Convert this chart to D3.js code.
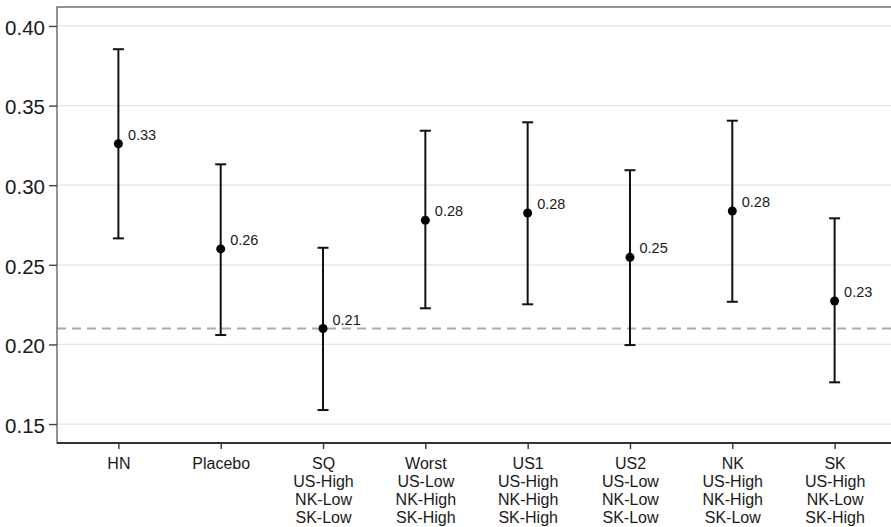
<!DOCTYPE html>
<html>
<head>
<meta charset="utf-8">
<script src="https://cdn.jsdelivr.net/npm/d3@7"></script>
<style>
  body { margin: 0; background: #fff; }
  svg { display: block; font-family: "Liberation Sans", Arial, sans-serif; }
</style>
</head>
<body>
<div id="chart"></div>
<script>
// categories and their multi-line axis labels
var categories = ['HN', 'Placebo', 'SQ', 'Worst', 'US1', 'US2', 'NK', 'SK'];
var categoryLabels = [
	['HN'],
	['Placebo'],
	['SQ', 'US-High', 'NK-Low', 'SK-Low'],
	['Worst', 'US-Low', 'NK-High', 'SK-High'],
	['US1', 'US-High', 'NK-High', 'SK-High'],
	['US2', 'US-Low', 'NK-Low', 'SK-Low'],
	['NK', 'US-High', 'NK-High', 'SK-Low'],
	['SK', 'US-High', 'NK-Low', 'SK-High']
];
// point estimates and interval bounds
var estimates = [0.326, 0.260, 0.210, 0.278, 0.2825, 0.2547, 0.2838, 0.2273];
var lowerBounds = [0.2666, 0.2059, 0.1588, 0.2227, 0.2252, 0.1996, 0.2268, 0.1762];
var upperBounds = [0.3854, 0.3131, 0.2607, 0.3342, 0.3395, 0.3094, 0.3405, 0.2792];
var yTicks = [0.15, 0.20, 0.25, 0.30, 0.35, 0.40];
var referenceLine = 0.21;

var data = categories.map(function (c, i) {
	return { key: c, est: estimates[i], lo: lowerBounds[i], hi: upperBounds[i] };
});

var W = 891, H = 527;
var margin = { left: 57, top: 7 };
var panelRight = 896, panelBottom = 443; // panel runs past the right edge

var svg = d3.select('#chart')
	.append('svg')
	.attr('width', W)
	.attr('height', H);

// X Scale
var xScale = d3.scalePoint()
	.domain(categories)
	.range([margin.left, panelRight])
	.padding(0.6);

// Y Scale
var yScale = d3.scaleLinear()
	.domain([0.1381, 0.4119])
	.range([panelBottom, margin.top]);

// panel background
svg.append('rect')
	.attr('x', margin.left)
	.attr('y', margin.top)
	.attr('width', panelRight - margin.left)
	.attr('height', panelBottom - margin.top)
	.attr('fill', '#fff');

// grid lines
svg.append('g')
	.selectAll('line')
	.data(yTicks)
	.enter()
	.append('line')
	.attr('x1', margin.left)
	.attr('x2', panelRight)
	.attr('y1', function (d) { return yScale(d); })
	.attr('y2', function (d) { return yScale(d); })
	.attr('stroke', '#e3e3e3')
	.attr('stroke-width', 1.3);

// dashed reference line
svg.append('line')
	.attr('x1', margin.left)
	.attr('x2', panelRight)
	.attr('y1', yScale(referenceLine))
	.attr('y2', yScale(referenceLine))
	.attr('stroke', '#acacac')
	.attr('stroke-width', 1.8)
	.attr('stroke-dasharray', '9,6');

// panel border (top and left visible)
svg.append('rect')
	.attr('x', margin.left)
	.attr('y', margin.top)
	.attr('width', panelRight - margin.left)
	.attr('height', panelBottom - margin.top)
	.attr('fill', 'none')
	.attr('stroke', '#666')
	.attr('stroke-width', 1.4);

// Y Axis
var yAxis = svg.append('g')
	.attr('transform', 'translate(' + margin.left + ',0)')
	.call(d3.axisLeft(yScale).tickValues(yTicks).tickSize(8).tickPadding(4).tickFormat(d3.format('.2f')));
yAxis.select('.domain').remove();
yAxis.selectAll('line').attr('stroke', '#444').attr('stroke-width', 1.4);
yAxis.selectAll('text')
	.attr('fill', '#1a1a1a')
	.style('font-size', '20.5px')
	.attr('dy', '0.4em');

// X Axis
var xAxis = svg.append('g')
	.attr('transform', 'translate(0,' + panelBottom + ')')
	.call(d3.axisBottom(xScale).tickSize(6).tickFormat(''));
xAxis.select('.domain')
	.attr('d', 'M' + margin.left + ',0H' + panelRight)
	.attr('stroke', '#333')
	.attr('stroke-width', 1.8);
xAxis.selectAll('.tick line').attr('stroke', '#333').attr('stroke-width', 1.4);

xAxis.selectAll('.tick')
	.each(function (d, i) {
		var t = d3.select(this).append('text')
			.attr('fill', '#1a1a1a')
			.attr('text-anchor', 'middle')
			.style('font-size', '16px');
		categoryLabels[i].forEach(function (line, j) {
			t.append('tspan')
				.attr('x', 0)
				.attr('y', 25.5 + j * 18)
				.text(line);
		});
	});

// error bars
var bars = svg.append('g')
	.selectAll('g')
	.data(data)
	.enter()
	.append('g');

bars.append('line')
	.attr('x1', function (d) { return xScale(d.key); })
	.attr('x2', function (d) { return xScale(d.key); })
	.attr('y1', function (d) { return yScale(d.lo); })
	.attr('y2', function (d) { return yScale(d.hi); })
	.attr('stroke', '#111')
	.attr('stroke-width', 2);

['lo', 'hi'].forEach(function (k) {
	bars.append('line')
		.attr('x1', function (d) { return xScale(d.key) - 5.5; })
		.attr('x2', function (d) { return xScale(d.key) + 5.5; })
		.attr('y1', function (d) { return yScale(d[k]); })
		.attr('y2', function (d) { return yScale(d[k]); })
		.attr('stroke', '#111')
		.attr('stroke-width', 2);
});

// points
bars.append('circle')
	.attr('cx', function (d) { return xScale(d.key); })
	.attr('cy', function (d) { return yScale(d.est); })
	.attr('r', 4.5)
	.attr('fill', '#000');

// value labels
bars.append('text')
	.attr('x', function (d) { return xScale(d.key) + 9.5; })
	.attr('y', function (d) { return yScale(d.est) - 4; })
	.attr('fill', '#1a1a1a')
	.style('font-size', '14.5px')
	.text(function (d) { return d3.format('.2f')(d.est); });
</script>
</body>
</html>
